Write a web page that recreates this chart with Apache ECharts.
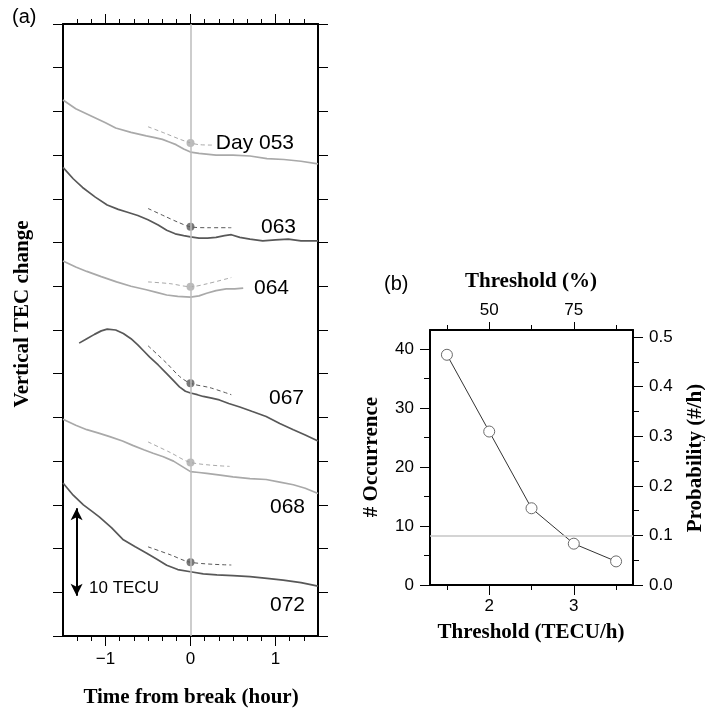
<!DOCTYPE html>
<html>
<head>
<meta charset="utf-8">
<script src="https://cdn.jsdelivr.net/npm/echarts@6.0.0/dist/echarts.min.js"></script>
<style>
  html, body { margin: 0; padding: 0; background: #fff; }
  #chart { width: 705px; height: 708px; }
</style>
</head>
<body>
<div id="chart"></div>
<script>
// (a) vertical TEC, [hours from break, TECU offset]
var day053 = [[-1.5,61.3],[-1.35,60.3],[-1.15,59.4],[-1.0,58.7],[-0.88,58.1],[-0.7,57.6],[-0.52,57.2],[-0.42,57.0],[-0.33,56.8],[-0.25,56.5],[-0.17,56.2],[-0.08,55.7],[0,55.35],[0.1,55.2],[0.3,55.0],[0.5,55.0],[0.7,54.9],[0.9,54.6],[1.1,54.5],[1.3,54.3],[1.5,54.0]]
var day063 = [[-1.5,53.6],[-1.38,52.3],[-1.27,51.3],[-1.12,50.2],[-0.98,49.3],[-0.85,48.8],[-0.75,48.5],[-0.62,48.1],[-0.5,47.6],[-0.38,47.0],[-0.28,46.4],[-0.18,46.0],[-0.08,45.8],[0,45.65],[0.1,45.5],[0.2,45.5],[0.3,45.6],[0.4,45.8],[0.48,45.9],[0.58,45.6],[0.7,45.4],[0.85,45.2],[1.0,45.3],[1.15,45.4],[1.3,45.2],[1.5,45.2]]
var day064 = [[-1.5,42.9],[-1.35,42.2],[-1.22,41.7],[-1.05,41.1],[-0.87,40.5],[-0.7,40.0],[-0.52,39.6],[-0.4,39.3],[-0.28,39.0],[-0.15,38.85],[0,38.75],[0.1,38.9],[0.19,39.2],[0.3,39.5],[0.42,39.7],[0.52,39.7],[0.62,39.8]]
var day067 = [[-1.31,33.5],[-1.22,34.0],[-1.13,34.5],[-1.05,34.9],[-0.98,35.1],[-0.88,35.0],[-0.79,34.6],[-0.7,34.0],[-0.62,33.3],[-0.55,32.6],[-0.48,31.9],[-0.38,31.0],[-0.28,30.0],[-0.2,29.2],[-0.13,28.5],[-0.06,28.0],[0,27.8],[0.08,27.6],[0.15,27.4],[0.25,27.2],[0.34,27.0],[0.45,26.6],[0.58,26.2],[0.72,25.7],[0.89,25.1],[1.05,24.3],[1.21,23.6],[1.35,23.0],[1.5,22.3]]
var day068 = [[-1.5,24.8],[-1.35,24.1],[-1.22,23.6],[-1.08,23.2],[-0.95,22.8],[-0.8,22.3],[-0.68,21.8],[-0.55,21.3],[-0.44,20.9],[-0.32,20.5],[-0.2,20.0],[-0.1,19.4],[0,18.8],[0.1,18.7],[0.19,18.6],[0.35,18.4],[0.5,18.2],[0.7,18.0],[0.89,17.9],[1.05,17.6],[1.21,17.3],[1.35,16.9],[1.5,16.3]]
var day072 = [[-1.5,17.5],[-1.38,16.1],[-1.26,15.0],[-1.15,14.2],[-1.07,13.6],[-0.93,12.4],[-0.79,11.0],[-0.65,10.2],[-0.52,9.5],[-0.4,8.8],[-0.28,8.1],[-0.15,7.6],[0,7.35],[0.15,7.1],[0.31,7.0],[0.5,6.9],[0.7,6.8],[0.9,6.6],[1.09,6.4],[1.3,6.1],[1.5,5.7]]

// dashed fits around the break
var fit053 = [[-0.5,58.25],[-0.3,57.5],[-0.12,56.8],[0,56.4],[0.1,56.2],[0.26,56.15]]
var fit063 = [[-0.5,48.9],[-0.3,48.0],[-0.14,47.3],[0,46.8],[0.2,46.7],[0.48,46.7]]
var fit064 = [[-0.5,40.5],[-0.24,40.3],[0,39.95],[0.2,40.3],[0.48,41.0]]
var fit067 = [[-0.5,33.2],[-0.28,31.2],[-0.13,29.7],[0,28.9],[0.23,28.4],[0.48,27.6]]
var fit068 = [[-0.5,22.2],[-0.24,21.0],[0,19.85],[0.46,19.4]]
var fit072 = [[-0.5,10.2],[-0.24,9.3],[0,8.43],[0.48,8.12]]

var breakValues = [56.4, 46.8, 39.95, 28.9, 19.85, 8.43]
var dayNames = ['Day 053', '063', '064', '067', '068', '072']

var arrowX = -1.34
var arrowSpan = [4.6, 14.6]

var ticksA = [-1, 0, 1]
var minorTicksA = [-1.333, -1.167, -0.833, -0.667, -0.5, -0.333, -0.167, 0.167, 0.333, 0.5, 0.667, 0.833, 1.167, 1.333]

// (b) occurrences vs threshold
var thresholds = [1.5, 2, 2.5, 3, 3.5]
var occurrence = [39, 26, 13, 7, 4]
var totalHours = 84
var probLevel = 0.1
var countTicks = [0, 10, 20, 30, 40]
var countMinor = [5, 15, 25, 35]
var probTicks = [0, 0.1, 0.2, 0.3, 0.4, 0.5]
var probMinor = [0.05, 0.15, 0.25, 0.35, 0.45]
var pctTicks = [50, 75]
var pctMinor = [37.5, 62.5, 87.5]

var light = '#a9a9a9'
var dark = '#585858'
var sans = 'Liberation Sans'
var serif = 'Liberation Serif'

var chart = echarts.init(document.getElementById('chart'))

var black = { show: true, onZero: false, lineStyle: { color: '#000', width: 2 } }
var noLine = { show: false, onZero: false }
function tick(vals, len) {
  return { show: true, inside: false, length: len, customValues: vals, lineStyle: { color: '#000', width: 1 } }
}
function label(vals, margin, fmt) {
  return { show: true, customValues: vals, margin: margin, color: '#000', fontFamily: sans, fontSize: 17, formatter: fmt }
}
var hidden = { show: false }

var curves = [day053, day063, day064, day067, day068, day072]
var fits = [fit053, fit063, fit064, fit067, fit068, fit072]
var shades = [light, dark, light, dark, light, dark]

var series = [
  {
    type: 'line', xAxisIndex: 0, yAxisIndex: 0, data: [], z: 1, silent: true,
    markLine: {
      silent: true, symbol: 'none', label: { show: false },
      lineStyle: { color: '#bdbdbd', width: 1.5, type: 'solid' },
      data: [{ xAxis: 0 }]
    }
  }
]
curves.forEach(function (c, i) {
  series.push({
    type: 'line', xAxisIndex: 0, yAxisIndex: 0, data: c, showSymbol: false, z: 2,
    lineStyle: { color: shades[i], width: 1.7 }
  })
  series.push({
    type: 'line', xAxisIndex: 0, yAxisIndex: 0, data: fits[i], showSymbol: false, z: 2,
    smooth: 0.3,
    lineStyle: { color: shades[i], width: 1, type: [4, 3] }
  })
})
series.push({
  type: 'scatter', xAxisIndex: 0, yAxisIndex: 0, symbolSize: 8, z: 4,
  data: breakValues.map(function (v, i) {
    return { value: [0, v], itemStyle: { color: shades[i] } }
  })
})
series.push({
  type: 'line', xAxisIndex: 0, yAxisIndex: 0, data: [], z: 5, silent: true,
  markLine: {
    silent: true, symbol: ['arrow', 'arrow'], symbolSize: [9, 12], label: { show: false },
    lineStyle: { color: '#000', width: 2, type: 'solid' },
    data: [[{ coord: [arrowX, arrowSpan[0]] }, { coord: [arrowX, arrowSpan[1]] }]]
  }
})

// panel (b)
series.push({
  type: 'line', xAxisIndex: 4, yAxisIndex: 3, z: 3,
  data: thresholds.map(function (t, i) { return [t, occurrence[i]] }),
  symbol: 'circle', symbolSize: 11,
  itemStyle: { color: '#fff', borderColor: '#6a6a6a', borderWidth: 1 },
  lineStyle: { color: '#333', width: 1 },
  markLine: {
    silent: true, symbol: 'none', label: { show: false },
    lineStyle: { color: '#c6c6c6', width: 1.5, type: 'solid' },
    data: [{ yAxis: probLevel * totalHours }]
  }
})

var texts = [
  { x: 12, y: 17, text: '(a)', font: '20px ' + sans, align: 'left' },
  { x: 23, y: 314, text: 'Vertical TEC change', font: 'bold 21px ' + serif, rot: Math.PI / 2 },
  { x: 191, y: 698, text: 'Time from break (hour)', font: 'bold 21px ' + serif },
  { x: 294, y: 143, text: dayNames[0], font: '21px ' + sans, align: 'right' },
  { x: 296, y: 227, text: dayNames[1], font: '21px ' + sans, align: 'right' },
  { x: 289, y: 288, text: dayNames[2], font: '21px ' + sans, align: 'right' },
  { x: 304, y: 398, text: dayNames[3], font: '21px ' + sans, align: 'right' },
  { x: 305, y: 507, text: dayNames[4], font: '21px ' + sans, align: 'right' },
  { x: 305, y: 605, text: dayNames[5], font: '21px ' + sans, align: 'right' },
  { x: 89, y: 588, text: '10 TECU', font: '17px ' + sans, align: 'left' },
  { x: 384, y: 284, text: '(b)', font: '20px ' + sans, align: 'left' },
  { x: 531, y: 282, text: 'Threshold (%)', font: 'bold 21px ' + serif },
  { x: 531, y: 633, text: 'Threshold (TECU/h)', font: 'bold 21px ' + serif },
  { x: 372, y: 457, text: '# Occurrence', font: 'bold 21px ' + serif, rot: Math.PI / 2 },
  { x: 696, y: 458, text: 'Probability (#/h)', font: 'bold 21px ' + serif, rot: Math.PI / 2 }
]

chart.setOption({
  animation: false,
  backgroundColor: '#fff',
  grid: [
    { left: 63, top: 24, width: 255, height: 612 },
    { left: 63, top: 24, width: 255, height: 612 },
    { left: 430, top: 330, width: 203, height: 255 },
    { left: 430, top: 330, width: 203, height: 255 }
  ],
  xAxis: [
    { type: 'value', gridIndex: 0, position: 'bottom', min: -1.5, max: 1.5, axisLine: black, splitLine: hidden,
      axisTick: tick(ticksA, 10),
      axisLabel: label(ticksA, 15, function (v) { return v < 0 ? '\u2212' + Math.abs(v) : String(v) }) },
    { type: 'value', gridIndex: 0, position: 'top', min: -1.5, max: 1.5, axisLine: black, splitLine: hidden,
      axisTick: tick(ticksA, 10), axisLabel: hidden },
    { type: 'value', gridIndex: 1, position: 'bottom', min: -1.5, max: 1.5, axisLine: noLine, splitLine: hidden,
      axisTick: tick(minorTicksA, 5), axisLabel: hidden },
    { type: 'value', gridIndex: 1, position: 'top', min: -1.5, max: 1.5, axisLine: noLine, splitLine: hidden,
      axisTick: tick(minorTicksA, 5), axisLabel: hidden },
    { type: 'value', gridIndex: 2, position: 'bottom', min: 1.3, max: 3.7, axisLine: black, splitLine: hidden,
      axisTick: tick([2, 3], 10), axisLabel: label([2, 3], 13) },
    { type: 'value', gridIndex: 2, position: 'top', min: 32.5, max: 92.5, axisLine: black, splitLine: hidden,
      axisTick: tick(pctTicks, 8), axisLabel: label(pctTicks, 11) },
    { type: 'value', gridIndex: 3, position: 'bottom', min: 1.3, max: 3.7, axisLine: noLine, splitLine: hidden,
      axisTick: tick(thresholds.filter(function (t) { return t % 1 !== 0 }), 5), axisLabel: hidden },
    { type: 'value', gridIndex: 3, position: 'top', min: 32.5, max: 92.5, axisLine: noLine, splitLine: hidden,
      axisTick: tick(pctMinor, 5), axisLabel: hidden }
  ],
  yAxis: [
    { type: 'value', gridIndex: 0, position: 'left', min: 0, max: 70, interval: 5, axisLine: black, splitLine: hidden,
      axisTick: { show: true, inside: false, length: 10, lineStyle: { color: '#000' } }, axisLabel: hidden },
    { type: 'value', gridIndex: 0, position: 'right', min: 0, max: 70, interval: 5, axisLine: black, splitLine: hidden,
      axisTick: { show: true, inside: false, length: 10, lineStyle: { color: '#000' } }, axisLabel: hidden },
    { type: 'value', gridIndex: 1, min: 0, max: 70, show: false },
    { type: 'value', gridIndex: 2, position: 'left', min: 0, max: 43.2, axisLine: black, splitLine: hidden,
      axisTick: tick(countTicks, 10), axisLabel: label(countTicks, 16) },
    { type: 'value', gridIndex: 2, position: 'right', min: 0, max: 43.2 / totalHours, axisLine: black, splitLine: hidden,
      axisTick: tick(probTicks, 10), axisLabel: label(probTicks, 16, function (v) { return v.toFixed(1) }) },
    { type: 'value', gridIndex: 3, position: 'left', min: 0, max: 43.2, axisLine: noLine, splitLine: hidden,
      axisTick: tick(countMinor, 6), axisLabel: hidden },
    { type: 'value', gridIndex: 3, position: 'right', min: 0, max: 43.2 / totalHours, axisLine: noLine, splitLine: hidden,
      axisTick: tick(probMinor, 6), axisLabel: hidden }
  ],
  series: series,
  graphic: texts.map(function (t) {
    return {
      type: 'text', x: t.x, y: t.y, rotation: t.rot || 0, silent: true,
      style: { text: t.text, font: t.font, fill: '#000', align: t.align || 'center', verticalAlign: 'middle' }
    }
  })
})
</script>
</body>
</html>
